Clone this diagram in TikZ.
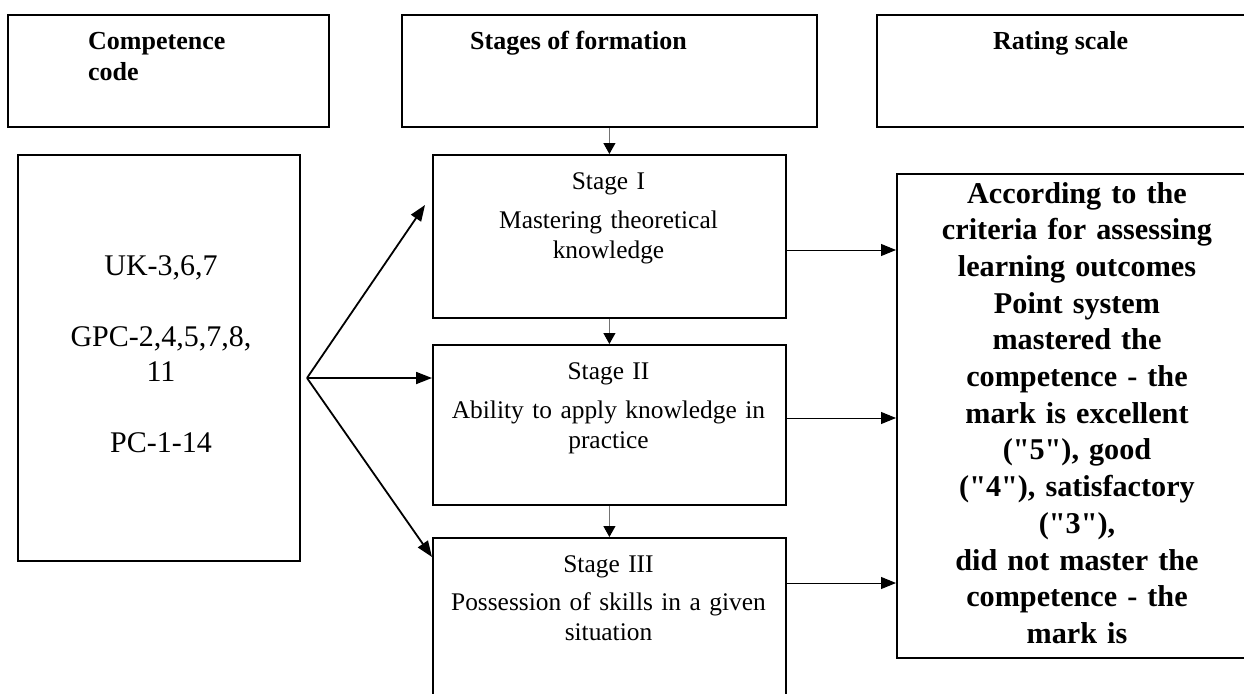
\documentclass[tikz,border=0pt]{standalone}
\usepackage{fontspec}
\setmainfont{Liberation Serif}[Ligatures=TeXOff]
\usetikzlibrary{arrows.meta,positioning}

\begin{document}
\begin{tikzpicture}[x=1pt,y=-1pt,
  box/.style={draw, line width=1.8pt, rectangle, anchor=north west, inner sep=0pt},
  headtxt/.style={font=\fontsize{26}{30}\selectfont\bfseries, anchor=base west, align=left, inner sep=0pt},
  stagetxt/.style={font=\fontsize{25.4}{30}\selectfont, text width=340, align=center, anchor=base, inner sep=0pt},
  flow/.style={-{Triangle[length=15,width=12]}, line width=1pt},
  fan/.style={-{Triangle[length=16,width=12]}, line width=1.8pt},
  down/.style={-{Triangle[length=11,width=12,black]}, line width=1pt, black!55}]
\clip (0,0) rectangle (1244,693);
% Header row
\node[box, minimum width=321, minimum height=112] (hcode) at (7,14) {};
\node[box, minimum width=415, minimum height=112] (hstage) at (401,14) {};
\node[box, minimum width=400, minimum height=112] (hscale) at (876,14) {};
\node[headtxt, text width=200] (tcode) at (88,50) {Competence\\code};
\node[headtxt] (tstage) at (470,50) {Stages of formation};
\node[headtxt] (tscale) at (993,50) {Rating scale};
% Competences
\node[box, minimum width=282, minimum height=406] (code) at (17,154) {};
\node[font=\fontsize{30}{35}\selectfont, text width=260, align=center, anchor=base, inner sep=0pt] (tcodes) at (161,275)
  {UK-3,6,7\\[36pt] GPC-2,4,5,7,8,\\11\\[36pt] PC-1-14\hspace*{24pt}};
% Stages
\node[box, minimum width=353, minimum height=163] (stage1) at (432,154) {};
\node[box, minimum width=353, minimum height=160] (stage2) at (432,344) {};
\node[box, minimum width=353, minimum height=200] (stage3) at (432,537) {};
\node[stagetxt] (t1) at (608.5,189) {Stage I\\[9pt] Mastering theoretical\\knowledge};
\node[stagetxt] (t2) at (608.5,379) {Stage II\\[9pt] Ability to apply knowledge in\\practice};
\node[stagetxt] (t3) at (608.5,572) {Stage III\\[8pt] Possession of skills in a given\\situation};
% Rating scale
\node[box, minimum width=400, minimum height=484] (scale) at (896,173) {};
\node[font=\fontsize{30.2}{36.7}\selectfont\bfseries, text width=340, align=center, anchor=base, inner sep=0pt] (tscale2) at (1077,203)
  {According to the\\criteria for assessing\\learning outcomes\\Point system\\mastered the\\competence - the\\mark is excellent\\("5"), good\\("4"), satisfactory\\("3"),\\did not master the\\competence - the\\mark is};
% Connectors
\coordinate (fan) at (307,378);
\coordinate (tip1) at (425,205);
\coordinate (tip3) at (432,557);
\draw[fan] (fan) -- (tip1);
\draw[fan] (fan) -- (stage2.west |- fan);
\draw[fan] (fan) -- (tip3);
\foreach \s/\y in {stage1/250, stage2/418, stage3/583}
  \draw[flow] (\s.east |- 0,\y) -- (scale.west |- 0,\y);
\draw[down] (hstage.south) -- (stage1.north);
\draw[down] (stage1.south) -- (stage2.north);
\draw[down] (stage2.south) -- (stage3.north);
\end{tikzpicture}
\end{document}
